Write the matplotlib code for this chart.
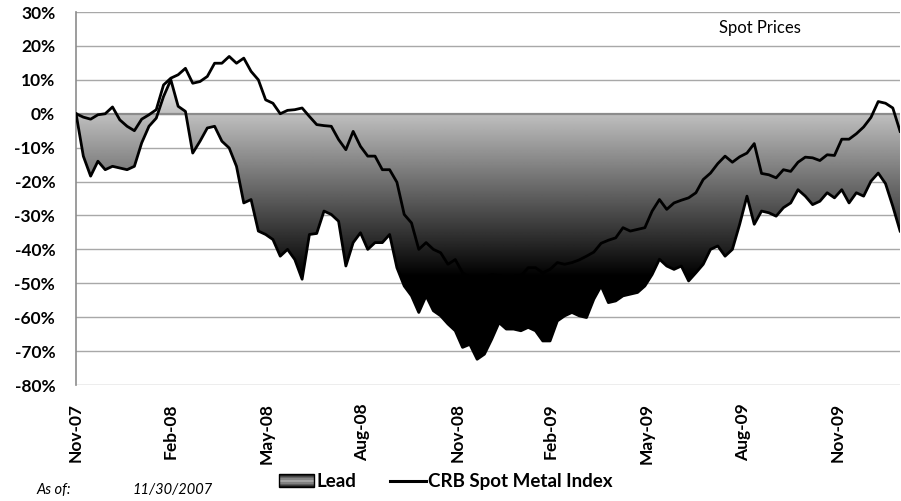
import numpy as np
import pandas as pd
import matplotlib
matplotlib.use('Agg')
import matplotlib.pyplot as plt
import matplotlib.dates as mdates
import matplotlib.ticker as mticker
from matplotlib.patches import Rectangle
from matplotlib.lines import Line2D
from matplotlib.legend_handler import HandlerBase

# weekly % change since 11/30/2007
lead = [0.0, -12.5, -18.4, -14.0, -16.5, -15.5, -16.0, -16.5, -15.5, -8.6,
        -3.7, -1.3, 5.1, 10.0, 2.2, 0.7, -11.6, -8.1, -4.2, -3.7,
        -8.1, -10.1, -15.5, -26.3, -25.3, -34.6, -35.6, -37.1, -42.0, -40.0,
        -43.0, -48.8, -35.6, -35.3, -28.7, -29.7, -31.7, -44.9, -38.0, -35.1,
        -40.0, -38.0, -38.0, -35.6, -45.4, -50.8, -53.7, -58.6, -53.7, -58.1,
        -59.6, -62.0, -64.0, -68.9, -68.0, -72.4, -70.9, -66.5, -61.6, -63.5,
        -63.5, -64.0, -63.0, -64.0, -67.0, -67.0, -61.1, -59.6, -58.6, -59.6,
        -60.1, -54.7, -50.8, -55.7, -55.2, -53.7, -53.2, -52.7, -50.8, -47.4,
        -42.9, -44.9, -45.9, -44.9, -49.3, -46.9, -44.4, -40.0, -39.0, -42.0,
        -40.0, -32.6, -24.3, -32.6, -28.7, -29.2, -30.2, -27.7, -26.3, -22.4,
        -24.3, -26.8, -25.8, -23.3, -24.8, -22.4, -26.3, -23.3, -24.3, -19.9,
        -17.5, -20.6, -27.3, -34.6]

crb = [0.0, -1.0, -1.6, -0.3, 0.0, 2.0, -1.8, -3.7, -5.0, -1.6,
       -0.3, 1.2, 8.5, 10.5, 11.5, 13.4, 9.0, 9.5, 11.0, 14.9,
       14.9, 16.9, 14.9, 16.4, 12.5, 10.0, 4.1, 3.1, 0.0, 1.0,
       1.2, 1.7, -0.8, -3.2, -3.5, -3.7, -7.6, -10.6, -5.2, -9.6,
       -12.5, -12.5, -16.5, -16.5, -20.2, -29.7, -32.2, -40.0, -38.0, -40.0,
       -41.0, -44.4, -43.0, -46.9, -48.3, -49.3, -49.0, -47.4, -47.8, -48.3,
       -48.0, -47.8, -45.4, -45.4, -46.9, -45.9, -43.9, -44.4, -43.9, -43.1,
       -42.0, -40.8, -38.2, -37.3, -36.6, -33.6, -34.6, -34.1, -33.6, -28.7,
       -25.3, -28.2, -26.3, -25.5, -24.8, -23.3, -19.4, -17.5, -14.7, -12.5,
       -14.3, -12.7, -11.6, -8.8, -17.6, -18.0, -18.9, -16.5, -17.0, -14.3,
       -12.8, -13.0, -13.8, -12.1, -12.3, -7.5, -7.5, -5.9, -3.9, -1.1,
       3.6, 3.1, 1.7, -5.2]

tick_labels = ['Nov-07', 'Feb-08', 'May-08', 'Aug-08', 'Nov-08',
               'Feb-09', 'May-09', 'Aug-09', 'Nov-09']

plt.rcParams['font.family'] = ['Lato', 'DejaVu Sans']
plt.rcParams['axes.unicode_minus'] = False

dates = pd.date_range('2007-11-30', periods=len(lead), freq='7D')
tick_dates = pd.date_range('2007-11-30', periods=len(tick_labels), freq='3ME')
xs = mdates.date2num(dates)

fig = plt.figure(figsize=(9.01, 5.01), dpi=100)
ax = fig.add_axes([0.0844, 0.2315, 0.9146, 0.7445])

# area for Lead, filled with a vertical white->black gradient
area = ax.fill_between(xs, lead, 0, color='none', lw=0)
yy = np.linspace(-80, 30, 500)
shade = np.interp(yy, [-48, 0, 12], [0.0, 0.75, 0.97])
img = ax.imshow(np.tile(shade[:, None], (1, 2)), cmap='gray', vmin=0, vmax=1,
                extent=[xs[0], xs[-1], -80, 30], origin='lower',
                aspect='auto', zorder=1, interpolation='bilinear')
img.set_clip_path(area.get_paths()[0], transform=ax.transData)

ax.axhline(0, color='#8c8c8c', lw=1.6, zorder=2)
ax.plot(xs, lead, color='black', lw=2.0, zorder=3)
ax.plot(xs, crb, color='black', lw=2.0, zorder=4)

ax.set_xlim(xs[0], xs[-1])
ax.set_ylim(-80, 30)
ax.set_yticks(range(-80, 31, 10))
ax.yaxis.set_major_formatter(mticker.PercentFormatter(decimals=0))
ax.yaxis.grid(True, color='#a8a8a8', lw=1.0)
ax.set_axisbelow(True)
ax.set_xticks(mdates.date2num(tick_dates))
ax.set_xticklabels(tick_labels, rotation=90, ha='center', va='top')

for s in ['top', 'right', 'bottom']:
    ax.spines[s].set_visible(False)
ax.spines['left'].set_color('#8c8c8c')
ax.spines['left'].set_linewidth(1.2)
ax.tick_params(axis='y', length=0, pad=15, labelsize=12.5)
ax.tick_params(axis='x', length=0, pad=13, labelsize=12.5)
for lab in ax.get_xticklabels() + ax.get_yticklabels():
    lab.set_fontweight('bold')

ax.text(0.83, 0.957, 'Spot Prices', transform=ax.transAxes, ha='center',
        va='center', fontsize=12)


class GradientHandler(HandlerBase):
    def create_artists(self, legend, orig_handle, xdescent, ydescent,
                       width, height, fontsize, trans):
        n = 10
        shades = np.interp(np.linspace(0, 1, n), [0, 0.5, 1], [0.15, 0.7, 0.1])
        arts = []
        for i, s in enumerate(shades):
            arts.append(Rectangle((-xdescent, -ydescent + height * (n - 1 - i) / n),
                                  width, height / n, facecolor=str(s),
                                  edgecolor='none', transform=trans))
        arts.append(Rectangle((-xdescent, -ydescent), width, height,
                              facecolor='none', edgecolor='black', lw=1,
                              transform=trans))
        return arts


lead_handle = Rectangle((0, 0), 1, 1)
crb_handle = Line2D([], [], color='black', lw=2.2)
fig.legend([lead_handle, crb_handle], ['Lead', 'CRB Spot Metal Index'],
           handler_map={lead_handle: GradientHandler()},
           loc='center', bbox_to_anchor=(0.4945, 0.038), ncol=2,
           frameon=False, handlelength=1.9, handletextpad=0.12,
           columnspacing=1.8, prop={'weight': 'bold', 'size': 13.5})

fig.text(0.04, 0.022, 'As of:', style='italic', fontsize=10.5, va='center')
fig.text(0.147, 0.022, '11/30/2007', style='italic', fontsize=10.5, va='center')

fig.savefig('out.png', dpi=100)
